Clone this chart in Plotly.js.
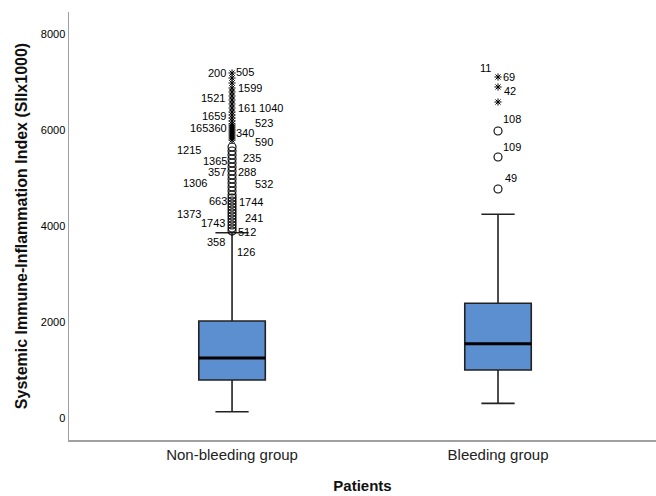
<!DOCTYPE html>
<html>
<head>
<meta charset="utf-8">
<script src="https://cdn.plot.ly/plotly-3.0.1.min.js"></script>
<style>html,body{margin:0;padding:0;background:#fff;}#chart{width:656px;height:496px;}</style>
</head>
<body>
<div id="chart"></div>
<script>
// ---- data ----
var categories = ["Non-bleeding group", "Bleeding group"];
var lowerFence = [131, 306];
var q1Values = [792, 1000];
var medianValues = [1250, 1548];
var q3Values = [2021, 2390];
var upperFence = [3860, 4244];

// extreme outliers (stars) and outliers (circles)
var nbExtremes = [7187, 7083, 6979, 6875, 6792, 6708, 6625, 6542, 6458, 6375, 6313, 6250, 6188, 6125, 6083, 6042, 6000, 5958, 5917, 5875, 5833, 5792];
var nbOutliers = [5646, 5563, 5479, 5396, 5313, 5229, 5146, 5063, 4979, 4896, 4813, 4729, 4646, 4583, 4521, 4458, 4396, 4333, 4271, 4208, 4146, 4083, 4021, 3958, 3896];
var bExtremes = [7104, 6896, 6583];
var bOutliers = [5979, 5438, 4771];

// case labels: text, group index, value, side
var labelTexts = ["200","505","1599","1521","161","1040","1659","523","165360","340","590","1215","1365","235","357","288","1306","532","663","1744","1373","241","1743","512","358","126",
                  "11","69","42","108","109","49"];
var labelGroups = [0,0,0,0,0,0,0,0,0,0,0,0,0,0,0,0,0,0,0,0,0,0,0,0,0,0,
                   1,1,1,1,1,1];
var labelValues = [7187,7208,6875,6667,6458,6458,6292,6146,6042,5938,5750,5583,5354,5417,5125,5125,4896,4875,4521,4500,4250,4167,4063,3875,3667,3458,
                   7292,7104,6813,6229,5646,5000];
var labelSides = ["L","R","R","L","R","R","L","R","L","R","R","L","L","R","L","R","L","R","L","R","L","R","L","R","L","R",
                  "L","R","R","R","R","R"];
var labelShifts = [-4,2,4,-5,4,25,-4,21,-3,2,21,-29,-3,9,-4,4,-23,21,-3,5,-29,11,-5,4,-5,3,
                   -5,3,4,3,3,5];

var yTicks = [0, 2000, 4000, 6000, 8000];

// ---- traces ----
var boxW = 0.25;
var traces = [];
traces.push({
  type: 'box',
  x: [0, 1],
  q1: q1Values, median: medianValues, q3: q3Values,
  lowerfence: lowerFence, upperfence: upperFence,
  width: boxW,
  whiskerwidth: 0.5,
  boxpoints: false,
  fillcolor: '#5b8fd0',
  line: {color: '#222', width: 1.6},
  hoverinfo: 'skip',
  showlegend: false
});
// thick median lines
for (var i = 0; i < categories.length; i++) {
  traces.push({
    type: 'scatter', mode: 'lines',
    x: [i - boxW / 2, i + boxW / 2],
    y: [medianValues[i], medianValues[i]],
    line: {color: '#000', width: 3},
    hoverinfo: 'skip', showlegend: false
  });
}
function fill(n, v) { var a = []; for (var k = 0; k < n; k++) a.push(v); return a; }
traces.push({
  type: 'scatter', mode: 'markers',
  x: fill(nbOutliers.length, 0).concat(fill(bOutliers.length, 1)),
  y: nbOutliers.concat(bOutliers),
  marker: {symbol: 'circle-open', size: 8, color: '#000', line: {color: '#000', width: 1.1}},
  hoverinfo: 'skip', showlegend: false
});
traces.push({
  type: 'scatter', mode: 'markers',
  x: fill(nbExtremes.length, 0).concat(fill(bExtremes.length, 1)),
  y: nbExtremes.concat(bExtremes),
  marker: {symbol: 'asterisk-open', size: 6, color: '#000', line: {color: '#000', width: 1}},
  hoverinfo: 'skip', showlegend: false
});

var annotations = [];
for (var j = 0; j < labelTexts.length; j++) {
  annotations.push({
    x: labelGroups[j], y: labelValues[j], xref: 'x', yref: 'y',
    text: labelTexts[j], showarrow: false,
    xanchor: labelSides[j] === 'L' ? 'right' : 'left',
    yanchor: 'middle',
    xshift: labelShifts[j],
    font: {family: 'Liberation Sans, Arial, sans-serif', size: 11, color: '#000'}
  });
}

var layout = {
  width: 656, height: 496,
  margin: {l: 69, r: 0, t: 12, b: 56, pad: 0},
  paper_bgcolor: '#fff', plot_bgcolor: '#fff',
  font: {family: 'Liberation Sans, Arial, sans-serif', color: '#222'},
  showlegend: false,
  xaxis: {
    range: [-0.613, 1.594],
    tickvals: [0, 1], ticktext: categories,
    showline: true, linecolor: '#a0a0a0', linewidth: 1.5,
    showgrid: false, zeroline: false, ticks: '',
    tickfont: {size: 15, color: '#222'},
    title: {text: '<b>Patients</b>', font: {size: 15, color: '#111'}, standoff: 19}
  },
  yaxis: {
    range: [-458, 8458],
    tickvals: yTicks,
    showline: true, linecolor: '#a0a0a0', linewidth: 1.5,
    showgrid: false, zeroline: false, ticks: '',
    tickfont: {size: 11, color: '#000'},
    title: {text: '<b>Systemic Immune-Inflammation Index (SIIx1000)</b>', font: {size: 16, color: '#111'}, standoff: 9}
  },
  annotations: annotations
};

Plotly.newPlot('chart', traces, layout, {displayModeBar: false, staticPlot: true});
</script>
</body>
</html>
